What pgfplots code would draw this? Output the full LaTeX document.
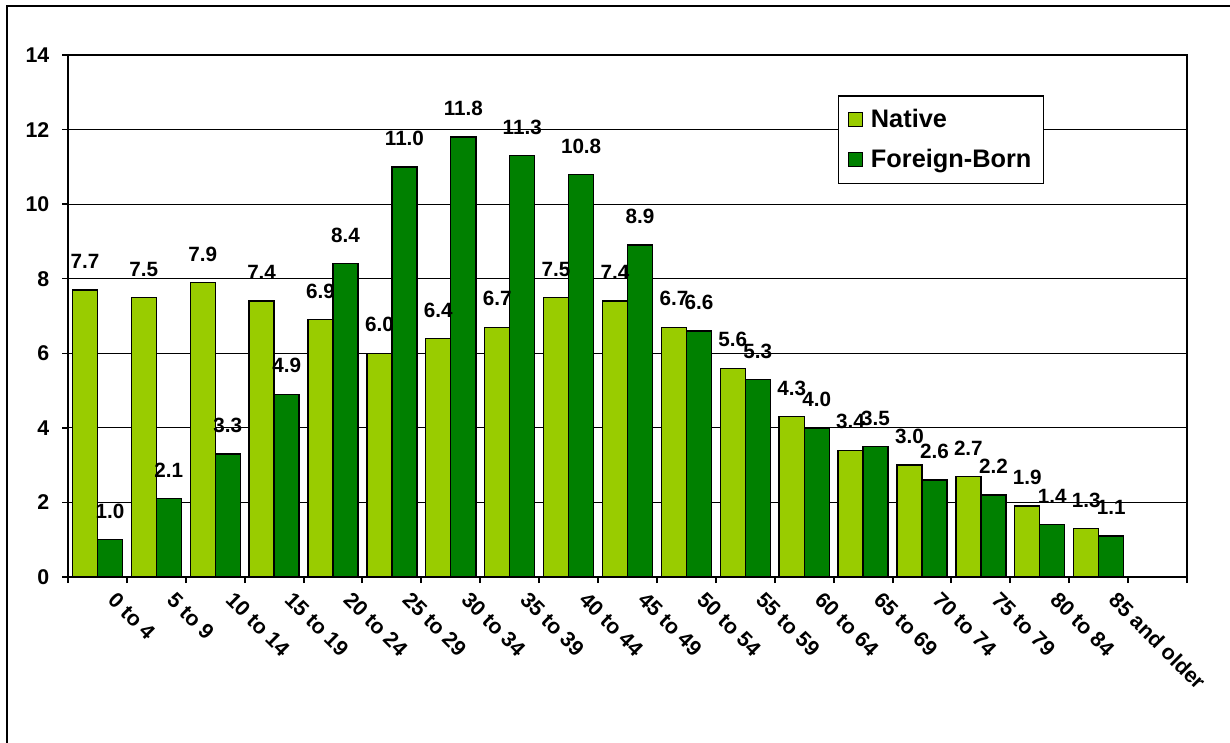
\documentclass[border=0pt]{standalone}
\usepackage{fontspec}
\setmainfont{Liberation Sans}
\usepackage{pgfplots}
\pgfplotsset{compat=1.18}
\definecolor{native}{HTML}{99CC00}
\definecolor{foreign}{HTML}{008000}
\begin{document}
\begin{tikzpicture}
\useasboundingbox (-51pt,-123.75pt) rectangle (871.5pt,432.75pt);
\draw[line width=1.5pt] (-45.75pt,-130pt) -- (-45.75pt,428.25pt) -- (880pt,428.25pt);
\begin{axis}[
  scale only axis,
  width=839.25pt, height=391.5pt,
  xmin=-0.5, xmax=18.5, ymin=0, ymax=14,
  enlargelimits=false,
  ybar=0pt, bar width=0.425,
  axis line style={line width=1.5pt},
  ytick={0,2,...,14},
  ymajorgrids, grid style={black, line width=0.9pt},
  xtick={0,...,17},
  xticklabels={0 to 4,5 to 9,10 to 14,15 to 19,20 to 24,25 to 29,30 to 34,35 to 39,40 to 44,45 to 49,50 to 54,55 to 59,60 to 64,65 to 69,70 to 74,75 to 79,80 to 84,85 and older},
  minor xtick={-0.5,0.5,...,18.5},
  tick align=outside, tick pos=left,
  major tick length=4.5pt, minor tick length=4.5pt,
  x tick style={draw=none},
  minor x tick style={draw=black, line width=1.5pt},
  y tick style={black, line width=1pt},
  xticklabel style={xshift=15pt, yshift=-1pt, rotate=-45, anchor=north west, font=\fontsize{16}{18}\selectfont\bfseries},
  yticklabel style={font=\fontsize{16}{18}\selectfont\bfseries, xshift=-6pt},
  /pgf/number format/assume math mode=true,
  nodes near coords,
  nodes near coords style={font=\fontsize{15.5}{18}\selectfont\bfseries, anchor=south, yshift=12pt, /pgf/number format/.cd, fixed, fixed zerofill, precision=1},
  legend style={at={(0.688,0.923)}, anchor=north west, draw=black, line width=1pt, font=\fontsize{19}{22}\selectfont\bfseries, row sep=11pt, inner xsep=7pt, inner ysep=8pt, fill=white, /tikz/every odd column/.append style={column sep=4pt}},
  legend cell align=left,
  legend image code/.code={\draw[#1, draw=black, line width=0.8pt] (0pt,-5.25pt) rectangle (10.5pt,5.25pt);},
]
\addplot[fill=native, draw=black, line width=1pt] coordinates {
(0,7.7) (1,7.5) (2,7.9) (3,7.4) (4,6.9) (5,6.0) (6,6.4) (7,6.7) (8,7.5) (9,7.4) (10,6.7) (11,5.6) (12,4.3) (13,3.4) (14,3.0) (15,2.7) (16,1.9) (17,1.3)};
\addplot[fill=foreign, draw=black, line width=1pt] coordinates {
(0,1.0) (1,2.1) (2,3.3) (3,4.9) (4,8.4) (5,11.0) (6,11.8) (7,11.3) (8,10.8) (9,8.9) (10,6.6) (11,5.3) (12,4.0) (13,3.5) (14,2.6) (15,2.2) (16,1.4) (17,1.1)};
\legend{Native,Foreign-Born}
\end{axis}
\end{tikzpicture}
\end{document}
